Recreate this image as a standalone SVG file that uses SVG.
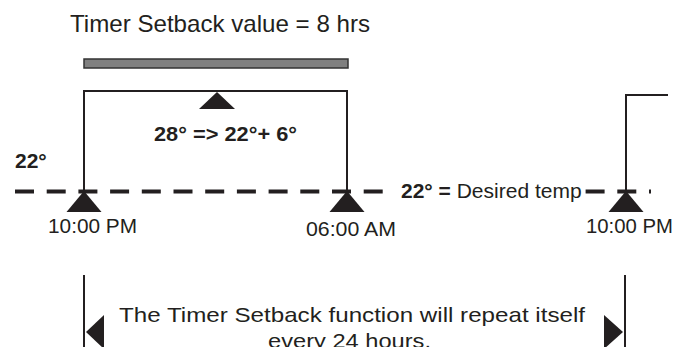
<svg xmlns="http://www.w3.org/2000/svg" width="688" height="347" viewBox="0 0 688 347">
<style>
text{font-family:"Liberation Sans",Arial,sans-serif;fill:#231f20}
.b{font-weight:bold}
.ln{stroke:#231f20;stroke-width:2;fill:none}
.dash{stroke:#231f20;stroke-width:4;stroke-dasharray:19 12.7;fill:none}
.tri{fill:#231f20}
</style>
<rect width="688" height="347" fill="#fff"/>
<g id="title">
<text x="70" y="32" font-size="24" textLength="300" lengthAdjust="spacingAndGlyphs">Timer Setback value = 8 hrs</text>
</g>
<g id="setback-bar">
<rect x="84" y="59" width="264" height="9" fill="#808080" stroke="#333" stroke-width="1.5"/>
</g>
<g id="connectors">
<line class="dash" x1="15" y1="191.5" x2="385" y2="191.5"/>
<line class="dash" x1="585.6" y1="191.5" x2="651" y2="191.5"/>
<polyline class="ln" points="84,191 84,91 347,91 347,191"/>
<polyline class="ln" points="626,191 626,95 668,95"/>
<line class="ln" x1="84" y1="275" x2="84" y2="347"/>
<line class="ln" x1="625" y1="275" x2="625" y2="347"/>
</g>
<g id="setback-peak">
<polygon class="tri" points="217,92 199,109 235,109"/>
<text class="b" x="154" y="141" font-size="20" textLength="143" lengthAdjust="spacingAndGlyphs">28° =&gt; 22°+ 6°</text>
</g>
<g id="left-label">
<text class="b" x="15" y="168" font-size="21">22°</text>
</g>
<g id="start-10pm">
<polygon class="tri" points="84,191 66.5,212 101.5,212"/>
<text x="48" y="233" font-size="21" textLength="89" lengthAdjust="spacingAndGlyphs">10:00 PM</text>
</g>
<g id="end-6am">
<polygon class="tri" points="347,191 329.5,212 364.5,212"/>
<text x="306" y="236" font-size="21" textLength="90" lengthAdjust="spacingAndGlyphs">06:00 AM</text>
</g>
<g id="desired-temp">
<text x="401" y="198" font-size="21"><tspan class="b">22° =</tspan> Desired temp</text>
</g>
<g id="next-10pm">
<polygon class="tri" points="626,191 608.5,212 643.5,212"/>
<text x="586" y="233" font-size="21" textLength="87" lengthAdjust="spacingAndGlyphs">10:00 PM</text>
</g>
<g id="repeat-note">
<polygon class="tri" points="86,332 104,315 104,349"/>
<polygon class="tri" points="623,332 604,315 604,349"/>
<text x="119" y="322" font-size="21" textLength="466" lengthAdjust="spacingAndGlyphs">The Timer Setback function will repeat itself</text>
<text x="268" y="347.5" font-size="21" textLength="163" lengthAdjust="spacingAndGlyphs">every 24 hours.</text>
</g>
</svg>
